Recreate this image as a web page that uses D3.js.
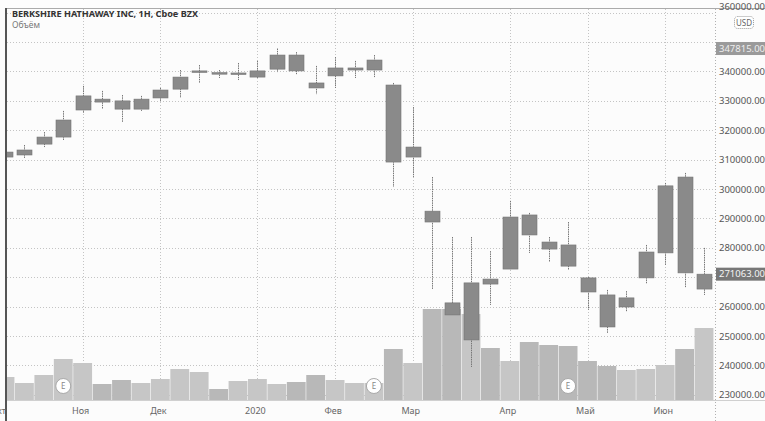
<!DOCTYPE html>
<html><head><meta charset="utf-8">
<script src="https://cdn.jsdelivr.net/npm/d3@7/dist/d3.min.js"></script>
<style>body{margin:0;background:#fff}svg{display:block}</style>
</head><body><svg id="c" width="765" height="421"></svg>
<script>
const dates = ["2019-10-07","2019-10-14","2019-10-21","2019-10-28","2019-11-04","2019-11-11","2019-11-18","2019-11-25",
"2019-12-02","2019-12-09","2019-12-16","2019-12-23","2019-12-30","2020-01-06","2020-01-13","2020-01-20","2020-01-27",
"2020-02-03","2020-02-10","2020-02-17","2020-02-24","2020-03-02","2020-03-09","2020-03-16","2020-03-23","2020-03-30",
"2020-04-06","2020-04-13","2020-04-20","2020-04-27","2020-05-04","2020-05-11","2020-05-18","2020-05-25","2020-06-01",
"2020-06-08","2020-06-15"];
const opens  = [310900,311600,315300,317700,326900,330600,330000,327200,331000,334000,339800,339600,339400,338100,340800,345600,336100,338500,340500,340500,335400,310900,292500,261300,248700,269400,272800,291200,282000,281000,269800,264000,259900,269800,278300,304100,266000];
const highs  = [313300,315000,319400,326600,335100,333400,332000,331700,334400,340500,342200,340500,342900,343600,347815,346600,341900,344900,343600,345600,336100,327900,304100,283700,283700,278900,296000,291900,283700,288800,270100,265700,265300,281000,302100,305500,280000];
const lows   = [310600,310600,314300,316700,325900,327200,322800,326600,330000,331000,336100,337800,337100,337800,339800,339100,332300,334400,337800,338100,300700,304100,266000,257200,239500,260600,272500,278300,275200,272500,258900,251100,258200,267700,274200,266400,264000];
const closes = [312600,313300,317700,323500,331700,329600,327200,330600,333700,338100,340200,339400,339500,340200,345600,340200,334400,341200,341200,343900,309200,314300,288800,257200,268100,267700,290500,284400,279600,273800,265000,253100,263000,278600,301100,271500,271063];
const volumes = [230,170,250,410,370,160,200,170,210,310,280,110,190,210,160,180,250,200,170,170,510,370,910,910,860,520,390,580,550,540,390,340,300,310,350,510,720];
const earningsDates = ["2019-10-28","2020-02-17","2020-04-27"];
const priceTicks = [230000,240000,250000,260000,270000,280000,290000,300000,310000,320000,330000,340000,350000,360000];
const monthDates  = ["2019-11-04","2019-12-02","2020-01-06","2020-02-03","2020-03-02","2020-04-06","2020-05-04","2020-06-01"];
const monthLabels = ["Ноя","Дек","2020","Фев","Мар","Апр","Май","Июн"];
const firstMonthLabel = "Окт";
const highMark = 347815;
const lastPrice = 271063;
const title = "BERKSHIRE HATHAWAY INC, 1H, Cboe BZX";
const subtitle = "Объём";

const W = 765, H = 421;
const L = 7, R = 715, T = 9, B = 400;
const svg = d3.select("#c");
const font = "'Noto Sans', 'DejaVu Sans', sans-serif";

svg.append("rect").attr("width", W).attr("height", H).attr("fill", "#fcfcfc");

const x = d3.scalePoint().domain(dates).range([5, 704]);
const step = x.step();
const y = d3.scaleLinear().domain([228265, 361258]).range([B, T]);
const yv = d3.scaleLinear().domain([0, 1000]).range([B, B - 100]);

const defs = svg.append("defs");
defs.append("clipPath").attr("id", "plot").append("rect")
  .attr("x", L).attr("y", T).attr("width", R - L).attr("height", B - T);

// grid
const grid = svg.append("g").attr("stroke", "#c4c4c4").attr("stroke-dasharray", "1,2");
grid.selectAll("line.h").data(priceTicks).join("line")
  .attr("x1", L).attr("x2", R).attr("y1", d => Math.round(y(d)) + 0.5).attr("y2", d => Math.round(y(d)) + 0.5);
grid.selectAll("line.v").data(monthDates).join("line")
  .attr("x1", d => Math.round(x(d)) + 0.5).attr("x2", d => Math.round(x(d)) + 0.5).attr("y1", T).attr("y2", B);

const plot = svg.append("g").attr("clip-path", "url(#plot)");

// volume
plot.append("g").selectAll("rect").data(dates).join("rect")
  .attr("x", (d) => x(d) - step / 2 + 0.3)
  .attr("width", step - 0.6)
  .attr("y", (d, i) => yv(volumes[i]))
  .attr("height", (d, i) => B - yv(volumes[i]))
  .attr("fill", (d, i) => closes[i] >= opens[i] ? "#c6c6c6" : "#b8b8b8");

// earnings markers
const eg = plot.append("g").selectAll("g").data(earningsDates).join("g")
  .attr("transform", d => `translate(${x(d)},${B - 14})`);
eg.append("circle").attr("r", 7.5).attr("fill", "#fff").attr("stroke", "#a8a8a8").attr("stroke-width", 1);
eg.append("text").text("E").attr("text-anchor", "middle").attr("dy", "0.35em")
  .attr("font-family", font).attr("font-size", 8).attr("fill", "#888");

// candles
const cg = plot.append("g").selectAll("g").data(dates).join("g");
cg.append("line")
  .attr("x1", d => Math.round(x(d)) + 0.5).attr("x2", d => Math.round(x(d)) + 0.5)
  .attr("y1", (d, i) => y(highs[i])).attr("y2", (d, i) => y(lows[i]))
  .attr("stroke", "#777").attr("stroke-width", 1).attr("stroke-dasharray", "1.5,0.8");
cg.append("rect")
  .attr("x", d => Math.round(x(d)) - 7)
  .attr("width", 15)
  .attr("y", (d, i) => y(Math.max(opens[i], closes[i])))
  .attr("height", (d, i) => Math.max(1.5, Math.abs(y(opens[i]) - y(closes[i]))))
  .attr("fill", "#8a8a8a").attr("stroke", "#747474").attr("stroke-width", 0.6);

// frame
svg.append("line").attr("x1", L - 1).attr("x2", W).attr("y1", T - 0.5).attr("y2", T - 0.5).attr("stroke", "#aaa");
svg.append("line").attr("x1", L - 1).attr("x2", L - 1).attr("y1", T - 1).attr("y2", H).attr("stroke", "#555").attr("stroke-width", 2);
svg.append("line").attr("x1", L).attr("x2", W).attr("y1", B + 0.5).attr("y2", B + 0.5).attr("stroke", "#d0d0d0");
svg.append("line").attr("x1", R + 0.5).attr("x2", R + 0.5).attr("y1", T).attr("y2", H)
  .attr("stroke", "#b0b0b0").attr("stroke-dasharray", "1,2");

// price axis: labels hidden where the highlighted price labels sit, top label nudged above the USD box
const marks = [highMark, lastPrice];
const shownTicks = priceTicks.filter(t => marks.every(m => Math.abs(y(t) - y(m)) > 10));
const ax = svg.append("g").attr("transform", `translate(${R},0)`)
  .call(d3.axisRight(y).tickValues(shownTicks).tickFormat(d => d3.format(".2f")(d)).tickSize(0).tickPadding(4));
ax.select(".domain").remove();
ax.selectAll("text").attr("font-family", font).attr("font-size", 9.5).attr("fill", "#555");
ax.selectAll(".tick").filter(d => d === d3.max(priceTicks)).select("text").attr("y", -6);

// USD box
svg.append("rect").attr("x", 734.5).attr("y", 16.5).attr("width", 19).attr("height", 12).attr("rx", 3)
  .attr("fill", "#fff").attr("stroke", "#999").attr("stroke-dasharray", "1,1");
svg.append("text").text("USD").attr("x", 744).attr("y", 25.5).attr("text-anchor", "middle")
  .attr("font-family", font).attr("font-size", 8).attr("fill", "#666");

// highlighted labels
function priceLabel(v, bg, fg) {
  svg.append("rect").attr("x", R + 1).attr("y", y(v) - 6.5).attr("width", W - R).attr("height", 13).attr("fill", bg);
  svg.append("text").text(d3.format(".2f")(v)).attr("x", R + 4).attr("y", y(v)).attr("dy", "0.35em")
    .attr("font-family", font).attr("font-size", 9.5).attr("fill", fg);
}
priceLabel(highMark, "#9a9a9a", "#eeeeee");
priceLabel(lastPrice, "#777777", "#f4f4f4");

// time axis labels
const xl = svg.append("g").attr("font-family", font).attr("font-size", 9).attr("fill", "#666").attr("text-anchor", "middle");
xl.selectAll("text").data(monthDates).join("text")
  .attr("x", d => x(d) - 2).attr("y", 414).text((d, i) => monthLabels[i]);
xl.append("text").attr("x", x(dates[0]) + 1).attr("y", 414).attr("text-anchor", "end").text(firstMonthLabel);

// title
svg.append("text").text(title).attr("x", 12).attr("y", 17)
  .attr("font-family", font).attr("font-size", 9.5).attr("font-weight", "bold").attr("fill", "#333")
  .attr("textLength", 186).attr("lengthAdjust", "spacingAndGlyphs");
svg.append("text").text(subtitle).attr("x", 12).attr("y", 28)
  .attr("font-family", font).attr("font-size", 8.5).attr("fill", "#777");
</script></body></html>
